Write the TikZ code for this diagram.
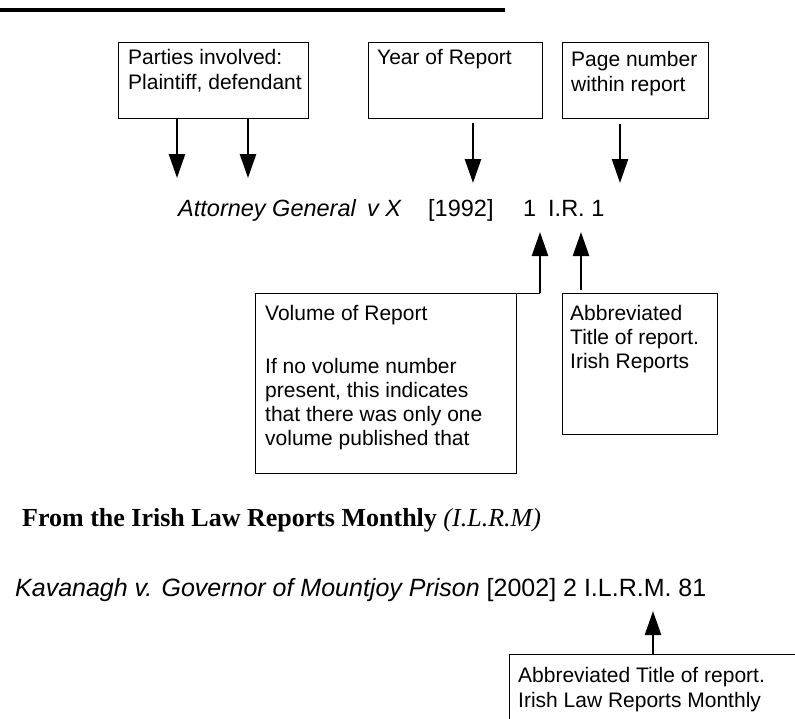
\documentclass[tikz,border=0pt]{standalone}
\usepackage{fontspec}
\setmainfont{Liberation Sans}
\newfontfamily\serifface{Liberation Serif}
\usetikzlibrary{arrows.meta}
\begin{document}
\begin{tikzpicture}[x=1pt,y=-1pt,
  frame/.style={draw=black, line width=1pt, inner sep=0pt, anchor=north west},
  boxtext/.style={anchor=north west, inner sep=0pt, align=left, font=\fontsize{21}{25}\selectfont},
  citeup/.style={anchor=base west, inner sep=0pt, font=\fontsize{23.5}{27}\selectfont},
  citeit/.style={anchor=base west, inner sep=0pt, font=\fontsize{23.5}{27}\selectfont\itshape},
  arr/.style={line width=2.5pt, -{Triangle[length=24pt,width=16pt]}},
  thinline/.style={line width=1pt}]
\useasboundingbox (0,0) rectangle (795,718);
\clip (0,0) rectangle (795,718);

% top rule
\coordinate (r1) at (0,10);
\coordinate (r2) at (505,10);
\draw[line width=3.2pt] (r1) -- (r2);

% top boxes
\node[frame, minimum width=190pt, minimum height=76pt] (parties) at (118,42) {};
\node[boxtext] (partiesT) at (128,49) {Parties involved:\\Plaintiff, defendant};
\node[frame, minimum width=174pt, minimum height=76pt] (year) at (368,42) {};
\node[boxtext] (yearT) at (377,49) {Year of Report};
\node[frame, minimum width=146pt, minimum height=76pt] (page) at (562,42) {};
\node[boxtext] (pageT) at (571,51) {Page number\\within report};

% citation line
\node[citeit] (ag) at (178,216) {Attorney General};
\node[citeit] (vx) at (367,216) {v X};
\node[citeup] (yr) at (428,216) {[1992]};
\node[citeup] (vn) at (523,216) {1};
\node[citeup] (ir) at (548,216) {I.R. 1};

% down arrows
\coordinate (a1) at (177,178);
\coordinate (a2) at (248,178);
\coordinate (a3) at (473,183);
\coordinate (a4) at (620,183);
\draw[arr] (parties.south -| a1) -- (a1);
\draw[arr] (parties.south -| a2) -- (a2);
\draw[arr] ([yshift=-4pt]year.south -| a3) -- (a3);
\draw[arr] ([yshift=-5pt]page.south -| a4) -- (a4);

% lower boxes
\node[frame, minimum width=261pt, minimum height=180pt] (vol) at (255,293) {};
\node[boxtext, font=\fontsize{21}{24}\selectfont] (volT) at (265,305)
  {Volume of Report\\[29pt]If no volume number\\present, this indicates\\that there was only one\\volume published that};
\node[frame, minimum width=155pt, minimum height=141pt] (abbr) at (562,293) {};
\node[boxtext, font=\fontsize{21}{24}\selectfont] (abbrT) at (570,305)
  {Abbreviated\\Title of report.\\Irish Reports};

% up arrows
\coordinate (v1) at (540,232);
\coordinate (v2) at (581,232);
\draw[thinline] (vol.north east) -- (vol.north east -| v1);
\draw[arr] (vol.north east -| v1) -- (v1);
\draw[arr] ([yshift=3pt]abbr.north -| v2) -- (v2);

% ILRM section
\node[anchor=base west, inner sep=0pt, font=\serifface\fontsize{26}{30}\selectfont] (head) at (22,526)
  {\textbf{From the Irish Law Reports Monthly} \textit{(I.L.R.M)}};
\node[anchor=base west, inner sep=0pt, font=\fontsize{25}{29}\selectfont] (kav) at (15,596)
  {\textit{Kavanagh v. Governor of Mountjoy Prison} [2002] 2 I.L.R.M. 81};

\node[frame, minimum width=300pt, minimum height=100pt] (ilrm) at (509,654) {};
\node[boxtext] (ilrmT) at (518,667) {Abbreviated Title of report.\\Irish Law Reports Monthly};
\coordinate (b1) at (653,611);
\draw[arr] (ilrm.north -| b1) -- (b1);
\end{tikzpicture}
\end{document}
